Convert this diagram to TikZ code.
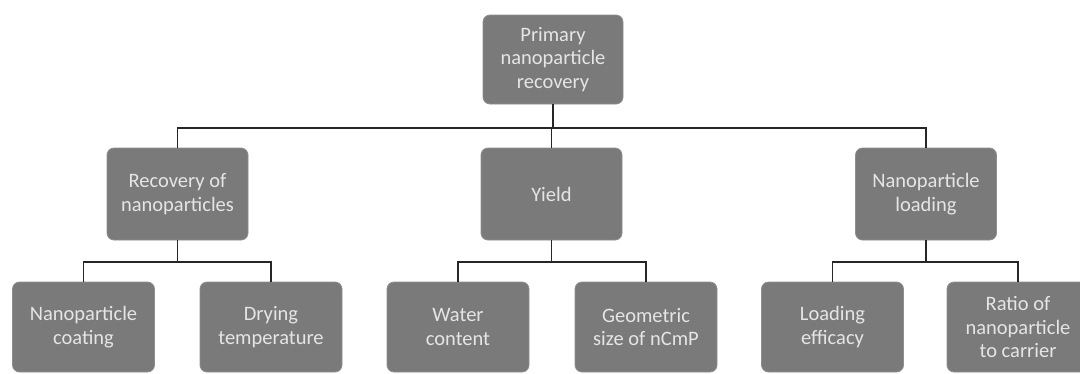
\documentclass[tikz,border=0pt]{standalone}
\usepackage{fontspec}
\setmainfont{Carlito}
\begin{document}
\begin{tikzpicture}[x=1pt,y=1pt,
  box/.style={draw=boxgrey!85!white, line width=0.8pt, fill=boxgrey, rounded corners=7pt,
    text=white!90!black, align=center, inner sep=2pt,
    font=\fontsize{20.5}{23.5}\selectfont},
  lvltop/.style={box, minimum width=140, minimum height=89},
  lvlmid/.style={box, minimum width=141, minimum height=92},
  lvlbot/.style={box, minimum width=142, minimum height=90},
  conn/.style={draw=black!85, line width=1.8pt}]
\definecolor{boxgrey}{HTML}{7A7A7A}
\useasboundingbox (0,0) rectangle (1080,-373);
\clip (0,0) rectangle (1080,-373);
\node[lvltop] (top) at (553,-59.5) {Primary\\nanoparticle\\recovery};
\node[lvlmid] (rec) at (177.5,-194) {Recovery of\\nanoparticles};
\node[lvlmid] (yld) at (551.5,-194) {Yield};
\node[lvlmid] (load) at (926,-194) {Nanoparticle\\loading};
\node[lvlbot] (coat) at (83.5,-327) {Nanoparticle\\coating};
\node[lvlbot] (dry) at (271,-327) {Drying\\temperature};
\node[lvlbot] (water) at (458,-327) {Water\\content};
\node[lvlbot] (geo) at (646,-327) {Geometric\\size of nCmP};
\node[lvlbot] (eff) at (832.5,-327) {Loading\\efficacy};
\node[lvlbot] (ratio) at (1018,-327) {Ratio of\\nanoparticle\\to carrier};
\coordinate (j0) at (553,-128);
\coordinate (j1) at (177.5,-262);
\coordinate (j2) at (551.5,-262);
\coordinate (j3) at (926,-262);
\draw[conn] (top.south) -- (j0);
\draw[conn] (rec.north) |- (j0) -| (load.north);
\draw[conn] (yld.north) -- (yld.north |- j0);
\draw[conn] (rec.south) -- (j1);
\draw[conn] (coat.north) |- (j1) -| (dry.north);
\draw[conn] (yld.south) -- (j2);
\draw[conn] (water.north) |- (j2) -| (geo.north);
\draw[conn] (load.south) -- (j3);
\draw[conn] (eff.north) |- (j3) -| (ratio.north);
\end{tikzpicture}
\end{document}
